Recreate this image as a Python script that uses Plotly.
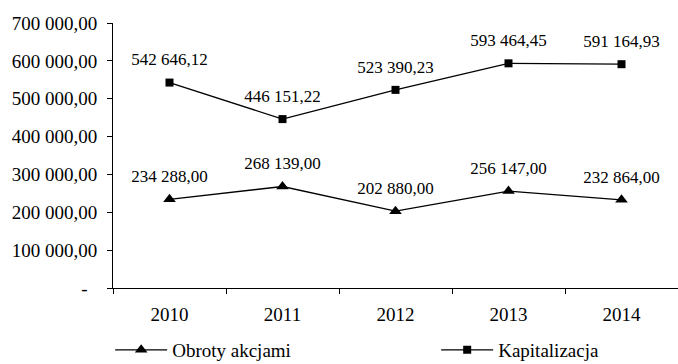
import plotly.graph_objects as go

years = ["2010", "2011", "2012", "2013", "2014"]
obroty = [234288.00, 268139.00, 202880.00, 256147.00, 232864.00]
kapitalizacja = [542646.12, 446151.22, 523390.23, 593464.45, 591164.93]
y_ticks = [0, 100000, 200000, 300000, 400000, 500000, 600000, 700000]

FONT = "Liberation Serif"


def pl_num(v):
    s = f"{v:,.2f}"
    return s.replace(",", " ").replace(".", ",")


def tick_text(v):
    return "-\u00a0\u00a0" if v == 0 else pl_num(v)


fig = go.Figure()
fig.add_trace(go.Scatter(
    x=years, y=obroty, name="Obroty akcjami", mode="lines+markers",
    line=dict(color="black", width=1.3),
    marker=dict(symbol="triangle-up", size=11, color="black"),
    legend="legend",
))
fig.add_trace(go.Scatter(
    x=years, y=kapitalizacja, name="Kapitalizacja", mode="lines+markers",
    line=dict(color="black", width=1.3),
    marker=dict(symbol="square", size=8, color="black"),
    legend="legend2",
))

# value labels above each point (transparent markers set the text offset)
for series in (obroty, kapitalizacja):
    fig.add_trace(go.Scatter(
        x=years, y=series, mode="markers+text", showlegend=False,
        hoverinfo="skip",
        text=[pl_num(v) for v in series], textposition="top center",
        marker=dict(size=19, color="rgba(0,0,0,0)"),
        textfont=dict(family=FONT, size=17, color="black"),
        cliponaxis=False,
    ))

legend_style = dict(
    orientation="h", xanchor="left", y=-0.162, yanchor="top",
    font=dict(family=FONT, size=19, color="black"),
    bgcolor="rgba(0,0,0,0)", itemwidth=52,
)

fig.update_layout(
    template="none",
    width=678, height=364,
    margin=dict(l=113, r=0, t=23, b=76, autoexpand=False),
    paper_bgcolor="white", plot_bgcolor="white",
    font=dict(family=FONT, size=19, color="black"),
    showlegend=True,
    legend=dict(x=-0.005, **legend_style),
    legend2=dict(x=0.572, **legend_style),
    xaxis=dict(
        type="category", range=[-0.5, 4.5], tickson="boundaries",
        showline=True, linecolor="black", linewidth=1,
        ticks="outside", ticklen=5, tickcolor="black", tickwidth=1,
        showgrid=False, zeroline=False, ticklabelstandoff=9,
        tickfont=dict(family=FONT, size=19, color="black"),
    ),
    yaxis=dict(
        range=[0, 700000], tickvals=y_ticks,
        ticktext=[tick_text(v) for v in y_ticks],
        showline=True, linecolor="black", linewidth=1,
        ticks="outside", ticklen=5, tickcolor="black", tickwidth=1,
        showgrid=False, zeroline=False, ticklabelstandoff=6,
        tickfont=dict(family=FONT, size=19, color="black"),
    ),
)

fig.write_html("out.html")
